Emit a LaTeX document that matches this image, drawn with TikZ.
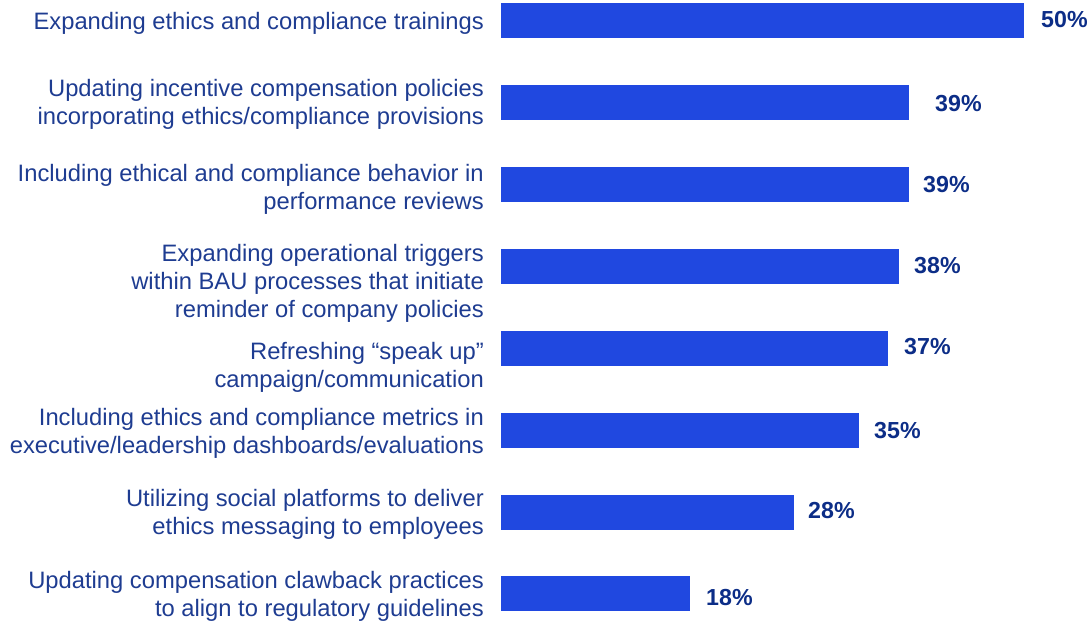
\documentclass[tikz,border=0pt]{standalone}
\usepackage{fontspec}
\setmainfont{Liberation Sans}
\definecolor{barblue}{RGB}{32,72,224}
\definecolor{lblblue}{RGB}{30,60,145}
\definecolor{pctblue}{RGB}{12,45,135}
\tikzset{
  bar/.style={fill=barblue, draw=none, inner sep=0pt, outer sep=0pt, minimum height=35pt, anchor=north west},
  lbl/.style={text=lblblue, inner sep=0pt, anchor=base east, font=\fontsize{23.75}{28}\selectfont},
  pct/.style={text=pctblue, inner sep=0pt, anchor=base west, font=\fontsize{23.2}{28}\selectfont\bfseries},
}
\newcommand{\twolines}[2]{\begin{tabular}[t]{@{}r@{}}#1\\#2\end{tabular}}
\newcommand{\threelines}[3]{\begin{tabular}[t]{@{}r@{}}#1\\#2\\#3\end{tabular}}
\begin{document}
\begin{tikzpicture}[x=1pt,y=-1pt]
\path[use as bounding box] (0,0) rectangle (1089,623);
% bars
\node[bar, minimum width=523pt] (b1) at (501,3) {};
\node[bar, minimum width=408pt] (b2) at (501,85) {};
\node[bar, minimum width=408pt] (b3) at (501,167) {};
\node[bar, minimum width=398pt] (b4) at (501,249) {};
\node[bar, minimum width=387pt] (b5) at (501,331) {};
\node[bar, minimum width=358pt] (b6) at (501,413) {};
\node[bar, minimum width=293pt] (b7) at (501,495) {};
\node[bar, minimum width=189pt] (b8) at (501,576) {};
% labels
\node[lbl] (l1) at (484,29.5) {Expanding ethics and compliance trainings};
\node[lbl] (l2) at (484,97) {\twolines{Updating incentive compensation policies}{incorporating ethics/compliance provisions}};
\node[lbl] (l3) at (484,181) {\twolines{Including ethical and compliance behavior in}{performance reviews}};
\node[lbl] (l4) at (484,261) {\threelines{Expanding operational triggers\ }{within BAU processes that initiate}{reminder of company policies}};
\node[lbl] (l5) at (484,359) {\twolines{Refreshing “speak up”}{campaign/communication}};
\node[lbl] (l6) at (484,425) {\twolines{Including ethics and compliance metrics in}{executive/leadership dashboards/evaluations}};
\node[lbl] (l7) at (484,506) {\twolines{Utilizing social platforms to deliver}{ethics messaging to employees}};
\node[lbl] (l8) at (484,588) {\twolines{Updating compensation clawback practices}{to align to regulatory guidelines}};
% values
\node[pct] (v1) at (1041,28) {50\%};
\node[pct] (v2) at (935,112) {39\%};
\node[pct] (v3) at (923,192) {39\%};
\node[pct] (v4) at (914,273) {38\%};
\node[pct] (v5) at (904,354) {37\%};
\node[pct] (v6) at (874,438) {35\%};
\node[pct] (v7) at (808,518) {28\%};
\node[pct] (v8) at (706,605) {18\%};
\end{tikzpicture}
\end{document}
